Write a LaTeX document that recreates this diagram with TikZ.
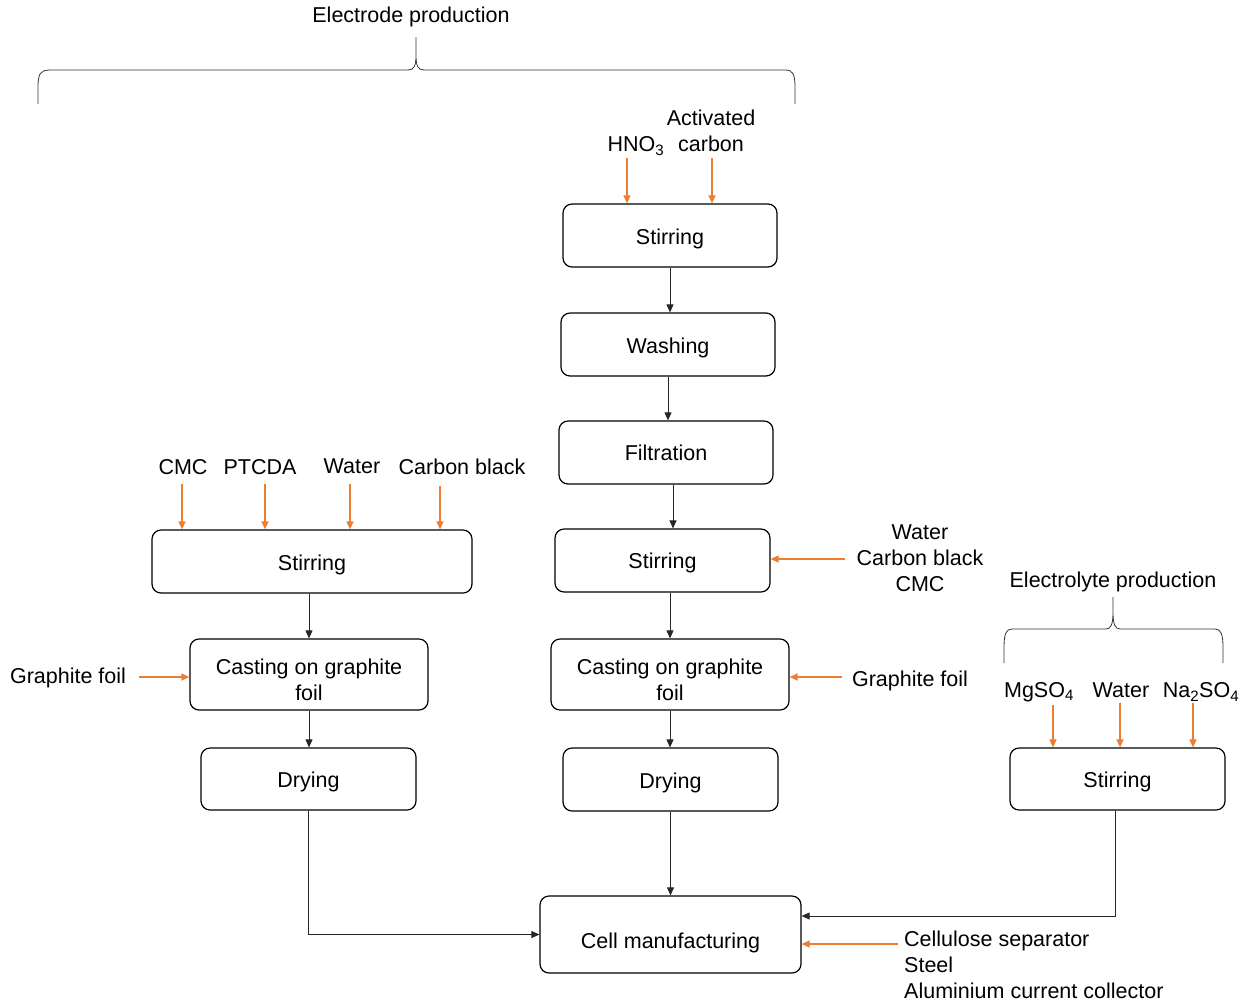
\documentclass[tikz,border=0pt]{standalone}
\usepackage{fontspec}
\setmainfont{Liberation Sans}
\usetikzlibrary{arrows.meta,calc}
\definecolor{org}{RGB}{237,125,49}
\newcommand{\twoline}[2]{\raisebox{-8pt}[\height][\depth]{\begin{tabular}{@{}c@{}}#1\\#2\end{tabular}}}
\newcommand{\dn}[2]{\raisebox{-#1pt}[\height][\depth]{#2}}
\begin{document}
\begin{tikzpicture}[x=1pt,y=-1pt,
  font=\fontsize{21.5}{26}\selectfont,
  box/.style={draw,rounded corners=9pt,line width=1.2pt,inner sep=0pt,align=center},
  arr/.style={draw=black!85,line width=0.8pt,-{Triangle[length=8pt,width=7pt]}},
  oarr/.style={draw=org,line width=1.4pt,-{Triangle[length=8pt,width=7pt]}},
  brace/.style={draw=black!80,line width=0.8pt},
  lbl/.style={inner sep=0pt,align=center}]
\useasboundingbox (0,0) rectangle (1252,1005);
% boxes
\node[box,minimum width=214pt,minimum height=63pt] (s1) at (670,235.5) {\dn{3}{Stirring}};
\node[box,minimum width=214pt,minimum height=63pt] (wash) at (668,344.5) {\dn{3}{Washing}};
\node[box,minimum width=214pt,minimum height=63pt] (filt) at (666,452.5) {Filtration};
\node[box,minimum width=215pt,minimum height=63pt] (s2) at (662.5,560.5) {\dn{2}{Stirring}};
\node[box,minimum width=238pt,minimum height=71pt] (cast2) at (670,674.5) {\twoline{Casting on graphite}{foil}};
\node[box,minimum width=215pt,minimum height=63pt] (dry2) at (670.5,779.5) {\dn{3}{Drying}};
\node[box,minimum width=261pt,minimum height=77pt] (cell) at (670.5,934.5) {\dn{8}{Cell manufacturing}};
\node[box,minimum width=320pt,minimum height=63pt] (sl) at (312,561.5) {\dn{3}{Stirring}};
\node[box,minimum width=238pt,minimum height=71pt] (castl) at (309,674.5) {\twoline{Casting on graphite}{foil}};
\node[box,minimum width=215pt,minimum height=62pt] (dryl) at (308.5,779) {\dn{3}{Drying}};
\node[box,minimum width=215pt,minimum height=62pt] (se) at (1117.5,779) {\dn{3}{Stirring}};
% black connectors
\draw[arr] (s1.south) -- (s1.south |- wash.north);
\draw[arr] (wash.south) -- (wash.south |- filt.north);
\draw[arr] ($(filt.south)+(7,0)$) -- ($(filt.south |- s2.north)+(7,0)$);
\draw[arr] ($(s2.south)+(7.5,0)$) -- ($(s2.south |- cast2.north)+(7.5,0)$);
\draw[arr] (cast2.south) -- (cast2.south |- dry2.north);
\draw[arr] (dry2.south) -- (dry2.south |- cell.north);
\draw[arr] (castl.north |- sl.south) -- (castl.north);
\draw[arr] (castl.south) -- (castl.south |- dryl.north);
\draw[arr] (dryl.south) |- (cell.west);
\draw[arr] ($(se.south)+(-2.5,0)$) |- ($(cell.east)+(0,-18.5)$);
% labels and orange inputs
\node[lbl] (ep) at (411,17) {Electrode production};
\draw[brace] (38,104) -- (38,88) .. controls (38,74) and (40,70) .. (50,70) -- (408,70)
  .. controls (414,70) and (416,66) .. (416,55) -- (416,37)
  (416,55) .. controls (416,66) and (418,70) .. (424,70) -- (785,70)
  .. controls (793,70) and (795,74) .. (795,88) -- (795,104);
\node[lbl] (ac) at (711,131) {Activated\\carbon};
\node[lbl] (hno) at (636,146) {HNO\textsubscript{3}};
\coordinate (hnoa) at (627,158);
\coordinate (aca) at (712,158);
\draw[oarr] (hnoa) -- (hnoa |- s1.north);
\draw[oarr] (aca) -- (aca |- s1.north);

\node[lbl] (cmc) at (183,467) {CMC};
\node[lbl] (ptc) at (260,467) {PTCDA};
\node[lbl] (wat) at (352,466) {Water};
\node[lbl] (cb) at (462,467) {Carbon black};
\coordinate (cmca) at (182,484);
\coordinate (ptca) at (265,484);
\coordinate (wata) at (350,484);
\coordinate (cba) at (440,486);
\draw[oarr] (cmca) -- (cmca |- sl.north);
\draw[oarr] (ptca) -- (ptca |- sl.north);
\draw[oarr] (wata) -- (wata |- sl.north);
\draw[oarr] (cba) -- (cba |- sl.north);

\node[lbl] (gfl) at (68,678) {Graphite foil};
\coordinate (gfla) at (139,677);
\draw[oarr] (gfla) -- (gfla -| castl.west);

\node[lbl] (wcc) at (920,558) {Water\\Carbon black\\CMC};
\coordinate (wcca) at (845,559);
\draw[oarr] (wcca) -- (wcca -| s2.east);

\node[lbl] (gfr) at (910,681) {Graphite foil};
\coordinate (gfra) at (842,677);
\draw[oarr] (gfra) -- (gfra -| cast2.east);

\node[lbl] (elp) at (1113,582) {Electrolyte production};
\draw[brace] (1004,663) -- (1004,648) .. controls (1004,634) and (1006,629) .. (1012,629) -- (1106,629)
  .. controls (1111,629) and (1113,624) .. (1113,612) -- (1113,597)
  (1113,612) .. controls (1113,624) and (1115,629) .. (1120,629) -- (1215,629)
  .. controls (1221,629) and (1223,634) .. (1223,648) -- (1223,663);
\node[lbl] (mg) at (1039,692) {MgSO\textsubscript{4}};
\node[lbl] (wate) at (1121,690) {Water};
\node[lbl] (na) at (1201,692) {Na\textsubscript{2}SO\textsubscript{4}};
\coordinate (mga) at (1053,705);
\coordinate (watea) at (1120,703);
\coordinate (naa) at (1193,703);
\draw[oarr] (mga) -- (mga |- se.north);
\draw[oarr] (watea) -- (watea |- se.north);
\draw[oarr] (naa) -- (naa |- se.north);

\node[lbl,anchor=north west,align=left] (cel) at (904,930.5) {Cellulose separator\\Steel\\Aluminium current collector};
\coordinate (cela) at (898,944);
\draw[oarr] (cela) -- (cela -| cell.east);
\end{tikzpicture}
\end{document}
